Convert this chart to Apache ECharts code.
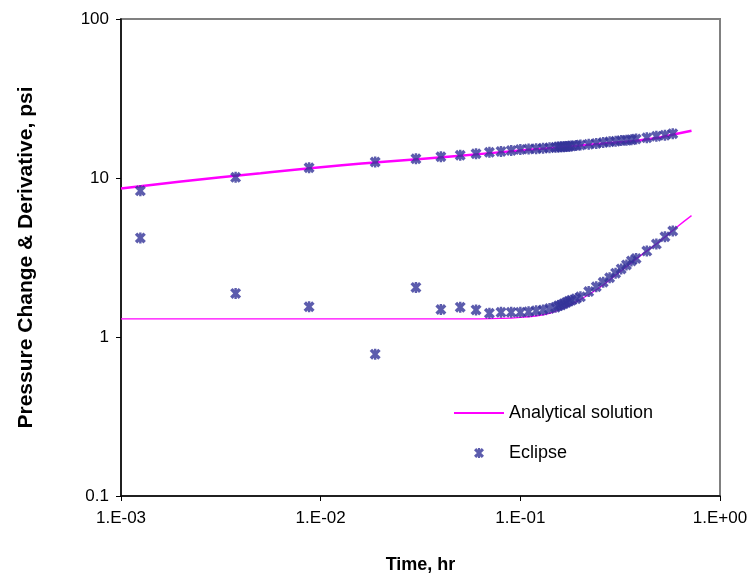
<!DOCTYPE html>
<html>
<head>
<meta charset="utf-8">
<script src="https://cdn.jsdelivr.net/npm/echarts@6/dist/echarts.min.js"></script>
<style>
  html, body { margin: 0; padding: 0; background: #ffffff; }
  #chart { width: 756px; height: 582px; }
</style>
</head>
<body>
<div id="chart"></div>
<script>
// ---- Data ----
const xTickLabels = ['1.E-03', '1.E-02', '1.E-01', '1.E+00'];
const yTickLabels = ['0.1', '1', '10', '100'];

// Analytical solution: pressure change
const analyticTime = [0.001, 0.002, 0.005, 0.01, 0.02, 0.05, 0.1, 0.15, 0.2, 0.3, 0.4, 0.5, 0.6, 0.72];
const analyticPressure = [8.6, 9.5, 10.7, 11.7, 12.6, 13.8, 14.9, 15.5, 16.0, 16.7, 17.3, 18.0, 18.9, 19.8];

// Analytical solution: derivative
const analyticDerivTime = [0.001, 0.01, 0.05, 0.08, 0.1, 0.13, 0.16, 0.2, 0.25, 0.3, 0.35, 0.4, 0.5, 0.6, 0.72];
const analyticDerivative = [1.3, 1.3, 1.3, 1.31, 1.33, 1.38, 1.5, 1.72, 2.05, 2.45, 2.85, 3.25, 4.0, 4.85, 5.8];

// Eclipse simulation results
const eclipseTime = [0.00125, 0.00375, 0.00875, 0.01875, 0.03, 0.04, 0.05, 0.06, 0.07, 0.08, 0.09, 0.10,
  0.11, 0.12, 0.13, 0.14, 0.15, 0.155, 0.16, 0.165, 0.17, 0.175, 0.18, 0.19, 0.20, 0.22, 0.24, 0.26,
  0.28, 0.30, 0.32, 0.34, 0.36, 0.38, 0.43, 0.48, 0.53, 0.58];
const eclipsePressure = [8.3, 10.1, 11.6, 12.6, 13.2, 13.6, 13.9, 14.2, 14.5, 14.7, 14.9, 15.1,
  15.2, 15.3, 15.4, 15.5, 15.6, 15.65, 15.7, 15.75, 15.8, 15.85, 15.9, 16.0, 16.1, 16.3, 16.5, 16.7,
  16.9, 17.0, 17.2, 17.3, 17.4, 17.6, 17.9, 18.3, 18.6, 19.0];
const eclipseDerivative = [4.2, 1.88, 1.55, 0.78, 2.05, 1.49, 1.54, 1.48, 1.41, 1.43, 1.43, 1.43,
  1.44, 1.46, 1.48, 1.51, 1.54, 1.57, 1.59, 1.62, 1.65, 1.68, 1.70, 1.74, 1.79, 1.93, 2.07, 2.21,
  2.36, 2.52, 2.68, 2.84, 3.01, 3.12, 3.47, 3.84, 4.27, 4.64];

// ---- Build chart ----
const zip = (xs, ys) => xs.map((x, i) => [x, ys[i]]);
const expLabel = (labels, base) => v => {
  const e = Math.round(Math.log10(v));
  return labels[e - base] !== undefined ? labels[e - base] : '';
};

// filled asterisk-style "X" marker (two thick diagonals + a vertical bar)
const starPath = 'path://M0,2.2L2.2,0L10,7.8L7.8,10Z M7.8,0L10,2.2L2.2,10L0,7.8Z M3.9,0L6.1,0L6.1,10L3.9,10Z';
const markerStyle = { color: '#333399' };
const FONT = 'Liberation Sans, Arial, sans-serif';

const chart = echarts.init(document.getElementById('chart'), null, { renderer: 'canvas' });
chart.setOption({
  animation: false,
  backgroundColor: '#ffffff',
  textStyle: { fontFamily: FONT },
  grid: {
    left: 121, top: 19, right: 36, bottom: 86,
    show: true, borderColor: '#808080', borderWidth: 2, backgroundColor: '#ffffff'
  },
  legend: {
    left: 454, top: 404, orient: 'vertical', padding: 0,
    itemWidth: 50, itemHeight: 10, itemGap: 22,
    textStyle: { fontSize: 18, color: '#000000', fontFamily: FONT },
    data: [
      { name: 'Analytical solution', icon: 'path://M0,0L50,0L50,2L0,2Z', itemStyle: { color: '#ff00ff' } },
      { name: 'Eclipse' }
    ]
  },
  xAxis: {
    type: 'log', logBase: 10, min: 0.001, max: 1,
    name: 'Time, hr', nameLocation: 'middle', nameGap: 60,
    nameTextStyle: { fontSize: 18, fontWeight: 'bold', color: '#000' },
    axisLine: { show: true, onZero: false, lineStyle: { color: '#000', width: 1.5 } },
    axisTick: { show: true, inside: false, length: 5, lineStyle: { color: '#000' } },
    minorTick: { show: false },
    splitLine: { show: false },
    axisLabel: { fontSize: 17, color: '#000', margin: 14, formatter: expLabel(xTickLabels, -3) }
  },
  yAxis: {
    type: 'log', logBase: 10, min: 0.1, max: 100,
    name: 'Pressure Change & Derivative, psi', nameLocation: 'middle', nameGap: 84,
    nameTextStyle: { fontSize: 21, fontWeight: 'bold', color: '#000' },
    axisLine: { show: true, onZero: false, lineStyle: { color: '#000', width: 1.5 } },
    axisTick: { show: true, inside: false, length: 5, lineStyle: { color: '#000' } },
    splitLine: { show: false },
    axisLabel: { fontSize: 17, color: '#000', margin: 12, formatter: expLabel(yTickLabels, -1) }
  },
  series: [
    {
      name: 'Analytical solution', type: 'line', symbol: 'none', smooth: true, symbolKeepAspect: true,
      data: zip(analyticTime, analyticPressure),
      lineStyle: { color: '#ff00ff', width: 2.5 }, itemStyle: { color: '#ff00ff' }, z: 2
    },
    {
      name: 'Analytical solution', type: 'line', symbol: 'none', smooth: true, symbolKeepAspect: true,
      data: zip(analyticDerivTime, analyticDerivative),
      lineStyle: { color: '#ff00ff', width: 1.3 }, itemStyle: { color: '#ff00ff' }, z: 2
    },
    {
      name: 'Eclipse', type: 'scatter', symbol: starPath, symbolSize: 11, symbolKeepAspect: true,
      data: zip(eclipseTime, eclipsePressure), itemStyle: markerStyle, z: 3
    },
    {
      name: 'Eclipse', type: 'scatter', symbol: starPath, symbolSize: 11, symbolKeepAspect: true,
      data: zip(eclipseTime, eclipseDerivative), itemStyle: markerStyle, z: 3
    }
  ]
});
</script>
</body>
</html>
